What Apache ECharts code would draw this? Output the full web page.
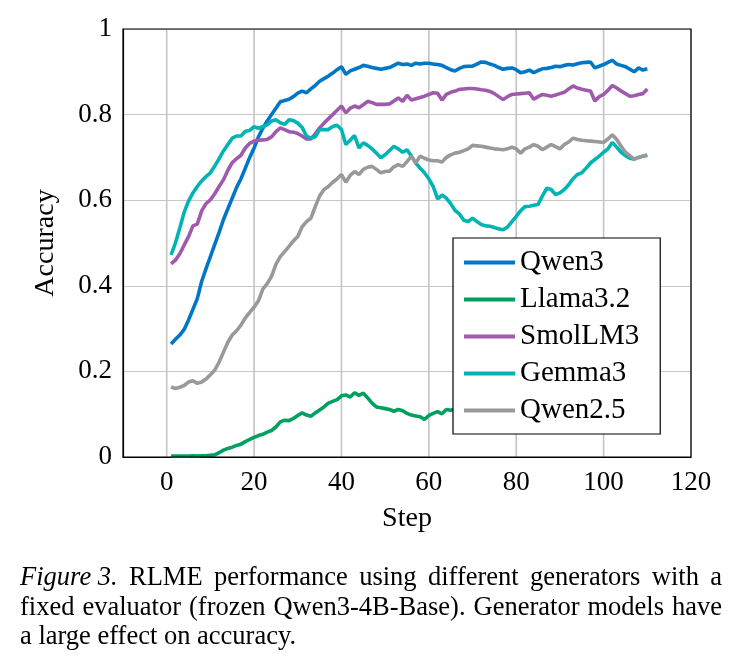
<!DOCTYPE html>
<html>
<head>
<meta charset="utf-8">
<script src="https://cdn.jsdelivr.net/npm/echarts@6/dist/echarts.min.js"></script>
<style>
html,body{margin:0;padding:0;background:#fff;}
#c{width:735px;height:668px;}
</style>
</head>
<body>
<div id="c"></div>
<script>
const seriesNames = ['Qwen3', 'Llama3.2', 'SmolLM3', 'Gemma3', 'Qwen2.5'];
const xTicks = [0, 20, 40, 60, 80, 100, 120];

const qwen3 = [0.264,0.275,0.285,0.298,0.32,0.345,0.37,0.41,0.44,0.468,
0.497,0.525,0.555,0.58,0.605,0.63,0.65,0.675,0.70,0.722,
0.748,0.768,0.785,0.80,0.815,0.83,0.833,0.836,0.842,0.85,
0.855,0.851,0.86,0.868,0.878,0.884,0.89,0.897,0.905,0.912,
0.894,0.902,0.906,0.91,0.915,0.913,0.91,0.908,0.906,0.908,
0.91,0.915,0.92,0.917,0.918,0.915,0.92,0.918,0.92,0.92,
0.918,0.917,0.915,0.91,0.905,0.902,0.908,0.912,0.913,0.913,
0.918,0.923,0.922,0.918,0.915,0.91,0.906,0.908,0.909,0.905,
0.898,0.9,0.904,0.898,0.903,0.907,0.908,0.91,0.913,0.912,
0.915,0.917,0.916,0.919,0.921,0.922,0.923,0.909,0.913,0.917,
0.922,0.927,0.918,0.915,0.912,0.906,0.9,0.909,0.904,0.907];

const llama32 = [0.002,0.002,0.002,0.002,0.002,0.003,0.002,0.003,0.003,0.004,
0.005,0.01,0.016,0.02,0.023,0.027,0.03,0.036,0.041,0.046,
0.05,0.053,0.058,0.062,0.07,0.082,0.086,0.085,0.09,0.097,
0.103,0.098,0.095,0.103,0.11,0.117,0.126,0.13,0.134,0.143,
0.145,0.14,0.15,0.144,0.149,0.138,0.126,0.117,0.115,0.113,
0.111,0.107,0.111,0.108,0.102,0.098,0.096,0.094,0.088,0.097,
0.102,0.106,0.101,0.111,0.109,0.112];

const smollm3 = [0.451,0.46,0.475,0.495,0.515,0.54,0.544,0.575,0.592,0.601,
0.615,0.632,0.648,0.67,0.688,0.697,0.705,0.722,0.733,0.738,
0.74,0.741,0.742,0.748,0.76,0.769,0.765,0.76,0.759,0.756,
0.75,0.743,0.743,0.755,0.769,0.78,0.79,0.8,0.81,0.82,
0.804,0.815,0.82,0.816,0.823,0.831,0.828,0.824,0.824,0.824,
0.825,0.832,0.839,0.831,0.845,0.834,0.837,0.84,0.843,0.847,
0.851,0.85,0.834,0.847,0.852,0.855,0.859,0.86,0.861,0.861,
0.86,0.858,0.857,0.854,0.849,0.842,0.835,0.842,0.847,0.848,
0.849,0.85,0.851,0.836,0.842,0.847,0.845,0.843,0.846,0.849,
0.852,0.86,0.867,0.862,0.859,0.857,0.855,0.832,0.842,0.847,
0.857,0.868,0.862,0.855,0.849,0.843,0.844,0.847,0.849,0.86];

const gemma3 = [0.472,0.5,0.535,0.572,0.598,0.617,0.632,0.645,0.655,0.664,
0.68,0.697,0.715,0.73,0.745,0.75,0.75,0.761,0.763,0.772,
0.768,0.772,0.776,0.785,0.788,0.781,0.777,0.788,0.786,0.78,
0.77,0.75,0.745,0.748,0.765,0.765,0.765,0.772,0.775,0.765,
0.73,0.74,0.751,0.722,0.734,0.728,0.72,0.71,0.699,0.706,
0.716,0.726,0.72,0.712,0.718,0.703,0.687,0.675,0.664,0.65,
0.632,0.603,0.612,0.605,0.592,0.576,0.568,0.553,0.55,0.558,
0.55,0.543,0.54,0.539,0.536,0.533,0.531,0.537,0.55,0.562,
0.575,0.585,0.586,0.588,0.59,0.61,0.628,0.625,0.613,0.617,
0.625,0.636,0.65,0.66,0.664,0.675,0.687,0.695,0.703,0.712,
0.72,0.735,0.724,0.712,0.704,0.698,0.696,0.7,0.703,0.705];

const qwen25 = [0.164,0.16,0.163,0.167,0.175,0.178,0.172,0.175,0.182,0.192,
0.203,0.222,0.245,0.268,0.285,0.295,0.308,0.325,0.338,0.35,
0.365,0.392,0.405,0.422,0.45,0.468,0.48,0.492,0.505,0.515,
0.538,0.55,0.558,0.585,0.61,0.625,0.632,0.642,0.65,0.66,
0.642,0.658,0.667,0.66,0.672,0.677,0.679,0.672,0.664,0.667,
0.668,0.678,0.683,0.679,0.69,0.703,0.687,0.703,0.698,0.694,
0.692,0.692,0.689,0.7,0.706,0.71,0.712,0.716,0.72,0.728,
0.727,0.726,0.724,0.722,0.72,0.719,0.718,0.72,0.724,0.72,
0.71,0.72,0.724,0.73,0.726,0.718,0.724,0.73,0.725,0.72,
0.73,0.736,0.745,0.742,0.74,0.739,0.738,0.737,0.736,0.735,
0.743,0.753,0.742,0.726,0.712,0.704,0.696,0.7,0.703,0.705];

const captionLines = [
  ['Figure 3.', 'RLME', 'performance', 'using', 'different', 'generators', 'with', 'a'],
  ['fixed', 'evaluator', '(frozen', 'Qwen3-4B-Base).', 'Generator', 'models', 'have'],
  ['a', 'large', 'effect', 'on', 'accuracy.']
];

const seriesValues = [qwen3, llama32, smollm3, gemma3, qwen25];
const colors = ['#0077C6', '#00A060', '#A05AAC', '#00B4B4', '#999999'];

const FONT = '"Liberation Serif", "DejaVu Serif", serif';
const CAP_SIZE = 26.5;

function toPairs(vals) {
  return vals.map((v, i) => [i + 1, v]);
}

// caption layout (justified like the LaTeX source)
const mctx = document.createElement('canvas').getContext('2d');
function wordWidth(w, italic) {
  mctx.font = (italic ? 'italic ' : '') + CAP_SIZE + 'px ' + FONT;
  return mctx.measureText(w).width;
}
const capGraphics = [];
const capX0 = 20, capX1 = 722;
const capTops = [565, 595, 624];
captionLines.forEach((words, li) => {
  const italicFlags = words.map((w, wi) => li === 0 && wi === 0);
  const widths = words.map((w, wi) => wordWidth(w, italicFlags[wi]));
  const total = widths.reduce((a, b) => a + b, 0);
  const justify = li < captionLines.length - 1;
  const spaceW = wordWidth(' ', false);
  const gap = justify ? (capX1 - capX0 - total) / (words.length - 1) : spaceW;
  let x = capX0;
  words.forEach((w, wi) => {
    capGraphics.push({
      type: 'text', left: x, top: capTops[li],
      style: {
        text: w,
        font: (italicFlags[wi] ? 'italic ' : '') + CAP_SIZE + 'px ' + FONT,
        fill: '#000'
      }
    });
    x += widths[wi] + gap;
  });
});

const chart = echarts.init(document.getElementById('c'), null, {renderer: 'canvas'});

const series = [];
seriesNames.forEach((name, k) => series.push({
  name: name,
  type: 'line',
  data: toPairs(seriesValues[k]),
  symbol: 'none',
  showSymbol: false,
  smooth: false,
  lineStyle: {width: 3.6, color: colors[k]},
  itemStyle: {color: colors[k]},
  emphasis: {disabled: true},
  animation: false,
  z: 20 + k * 0.01
}));

const baseOption = {
  animation: false,
  backgroundColor: '#ffffff',
  textStyle: {fontFamily: FONT},
  tooltip: {show: false},
  grid: {
    left: 123, right: 44, top: 29, bottom: 211,
    show: false
  },
  xAxis: {
    type: 'value',
    min: -10, max: 120,
    name: 'Step',
    nameLocation: 'middle',
    nameGap: 48,
    nameTextStyle: {fontFamily: FONT, fontSize: 28, color: '#000'},
    axisLine: {show: true, onZero: false, lineStyle: {color: '#000', width: 1.2}},
    axisTick: {show: false},
    splitLine: {show: false},
    axisLabel: {
      customValues: xTicks,
      fontFamily: FONT, fontSize: 27, color: '#000', margin: 12
    },
    z: 5
  },
  yAxis: {
    type: 'value',
    min: 0, max: 1, interval: 0.2,
    name: 'Accuracy',
    nameLocation: 'middle',
    nameGap: 63,
    nameRotate: 90,
    nameTextStyle: {fontFamily: FONT, fontSize: 28, color: '#000'},
    axisLine: {show: true, onZero: false, lineStyle: {color: '#000', width: 1.2}},
    axisTick: {show: false},
    splitLine: {show: true, lineStyle: {color: '#c8c8c8', width: 1}},
    axisLabel: {
      fontFamily: FONT, fontSize: 27, color: '#000', margin: 11,
      formatter: v => (v === 0 ? '0' : (v === 1 ? '1' : v.toFixed(1)))
    },
    z: 5
  },
  legend: {
    data: seriesNames,
    orient: 'vertical',
    left: 453, top: 238,
    padding: [10, 21, 9, 11],
    icon: 'rect',
    itemWidth: 51, itemHeight: 4,
    itemGap: 8,
    backgroundColor: '#fff',
    borderColor: '#000', borderWidth: 1.2,
    textStyle: {fontFamily: FONT, fontSize: 29, color: '#000', padding: [0, 0, 0, 0]},
    selectedMode: false,
    z: 50
  },
  graphic: capGraphics,
  series: series
};

chart.setOption(baseOption);

// vertical grid lines and plot frame, positioned through the axis scales
const yTop = chart.convertToPixel({yAxisIndex: 0}, 1);
const yBot = chart.convertToPixel({yAxisIndex: 0}, 0);
const xL = chart.convertToPixel({xAxisIndex: 0}, -10);
const xR = chart.convertToPixel({xAxisIndex: 0}, 120);
const vGrid = xTicks.map(t => {
  const px = chart.convertToPixel({xAxisIndex: 0}, t);
  return {
    type: 'line',
    z: 10,
    silent: true,
    shape: {x1: px, y1: yTop, x2: px, y2: yBot},
    style: {stroke: '#c4c4c4', lineWidth: 1.6}
  };
});
const frame = {
  type: 'rect', z: 30, silent: true,
  shape: {x: xL, y: yTop, width: xR - xL, height: yBot - yTop},
  style: {fill: null, stroke: '#000', lineWidth: 1.2}
};
chart.setOption({graphic: capGraphics.concat(vGrid, [frame])});
</script>
</body>
</html>
